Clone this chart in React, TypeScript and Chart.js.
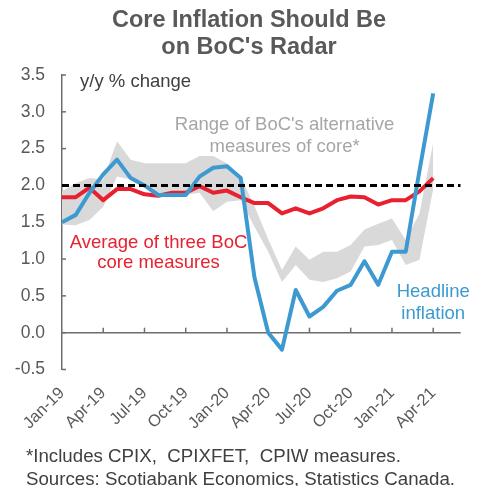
import React, { useEffect, useRef } from 'react';
import { Chart, registerables } from 'chart.js';

Chart.register(...registerables);

// ---------- data ----------
const TICK_LABELS = ['Jan-19', 'Apr-19', 'Jul-19', 'Oct-19', 'Jan-20', 'Apr-20', 'Jul-20', 'Oct-20', 'Jan-21', 'Apr-21'];
const X_LAST_INDEX = 29; // axis runs Jan-19 .. Jun-21
const X_TICK_STEP = 3;

const HEADLINE = [1.5, 1.6, 1.9, 2.15, 2.35, 2.1, 2.0, 1.87, 1.87, 1.87, 2.12, 2.24, 2.26, 2.1, 0.75, 0.0, -0.23, 0.58, 0.22, 0.35, 0.57, 0.65, 0.97, 0.65, 1.1, 1.1, 2.2, 3.25];
const CORE_AVG = [1.84, 1.84, 1.97, 1.8, 1.95, 1.95, 1.88, 1.86, 1.9, 1.9, 1.99, 1.9, 1.93, 1.84, 1.76, 1.76, 1.62, 1.69, 1.62, 1.69, 1.8, 1.85, 1.84, 1.74, 1.8, 1.8, 1.92, 2.1];
const RANGE_HIGH = [1.92, 2.03, 2.1, 2.08, 2.6, 2.35, 2.3, 2.3, 2.3, 2.3, 2.4, 2.4, 2.3, 2.12, 1.72, 1.27, 0.85, 1.17, 0.99, 1.1, 1.1, 1.19, 1.4, 1.48, 1.55, 1.26, 1.62, 2.58];
const RANGE_LOW = [1.47, 1.46, 1.53, 1.71, 2.12, 2.08, 1.99, 1.9, 1.88, 1.87, 1.9, 1.65, 1.78, 1.8, 1.44, 1.1, 0.69, 0.92, 0.72, 0.69, 0.74, 0.83, 1.17, 1.19, 1.26, 0.92, 0.99, 1.95];
const TARGET = 2.0;

const Y_MIN = -0.5;
const Y_MAX = 3.5;
const Y_STEP = 0.5;

const TITLE_LINES = ['Core Inflation Should Be', "on BoC's Radar"];
const FOOTNOTE_LINES = ['*Includes CPIX,  CPIXFET,  CPIW measures.', 'Sources: Scotiabank Economics, Statistics Canada.'];

// ---------- styles ----------
const FONT = '"Liberation Sans", Arial, sans-serif';
const BLUE = '#3D9AD1';
const RED = '#E8202F';
const BAND = '#D9D9D9';
const AXIS = '#6E6E6E';
const TEXT = '#595959';
const DARK = '#404040';

const toPoints = (arr: number[]) => arr.map((y, i) => ({ x: i, y }));

const decorPlugin = {
  id: 'decor',
  beforeDatasetsDraw(chart: any) {
    const { ctx, chartArea, scales } = chart;
    const xs = scales.x;
    const ys = scales.y;
    ctx.save();
    ctx.strokeStyle = AXIS;
    ctx.lineWidth = 1.5;
    // zero line
    const y0 = ys.getPixelForValue(0);
    ctx.beginPath();
    ctx.moveTo(chartArea.left, y0);
    ctx.lineTo(chartArea.right, y0);
    ctx.stroke();
    // upward tick marks on zero line
    for (let v = X_TICK_STEP; v <= X_LAST_INDEX; v += X_TICK_STEP) {
      const px = xs.getPixelForValue(v);
      ctx.beginPath();
      ctx.moveTo(px, y0);
      ctx.lineTo(px, y0 - 5);
      ctx.stroke();
    }
    // inward tick marks on y axis
    for (let v = Y_MIN; v <= Y_MAX + 1e-9; v += Y_STEP) {
      const py = ys.getPixelForValue(v);
      ctx.beginPath();
      ctx.moveTo(chartArea.left, py);
      ctx.lineTo(chartArea.left + 4, py);
      ctx.stroke();
    }
    ctx.restore();
  },
  afterDraw(chart: any) {
    const { ctx, scales } = chart;
    const xs = scales.x;
    const ys = scales.y;
    ctx.save();
    // title
    ctx.font = `bold 23.5px ${FONT}`;
    ctx.fillStyle = TEXT;
    ctx.textAlign = 'center';
    ctx.textBaseline = 'alphabetic';
    ctx.fillText(TITLE_LINES[0], 249, 26.5);
    ctx.fillText(TITLE_LINES[1], 249, 53.5);

    // annotations
    const label = (lines: string[], xv: number, yv: number, color: string, align: CanvasTextAlign, lh: number) => {
      ctx.font = `18.5px ${FONT}`;
      ctx.fillStyle = color;
      ctx.textAlign = align;
      ctx.textBaseline = 'middle';
      const px = xs.getPixelForValue(xv);
      const py = ys.getPixelForValue(yv);
      lines.forEach((t, k) => ctx.fillText(t, px, py + k * lh));
    };
    label(['y/y % change'], 1.31, 3.41, DARK, 'left', 22);
    label(["Range of BoC's alternative", 'measures of core*'], 16.19, 2.826, '#A6A6A6', 'center', 22.3);
    label(['Average of three BoC', 'core measures'], 7.02, 1.224, RED, 'center', 20.8);
    label(['Headline', 'inflation'], 27.0, 0.558, BLUE, 'center', 22.3);

    // footnote
    ctx.font = `18.7px ${FONT}`;
    ctx.fillStyle = DARK;
    ctx.textAlign = 'left';
    ctx.textBaseline = 'alphabetic';
    ctx.fillText(FOOTNOTE_LINES[0], 26, 461.5);
    ctx.fillText(FOOTNOTE_LINES[1], 26, 484.5);
    ctx.restore();
  },
};

export default function App() {
  const ref = useRef<HTMLCanvasElement | null>(null);

  useEffect(() => {
    if (!ref.current) return;
    Chart.defaults.font.family = FONT;
    const chart = new Chart(ref.current, {
      type: 'line',
      data: {
        datasets: [
          {
            label: 'Range low',
            data: toPoints(RANGE_LOW),
            borderWidth: 0,
            pointRadius: 0,
            fill: false,
            order: 3,
          },
          {
            label: 'Range high',
            data: toPoints(RANGE_HIGH),
            borderWidth: 0,
            pointRadius: 0,
            backgroundColor: BAND,
            fill: '-1',
            order: 4,
          },
          {
            label: 'Average of three BoC core measures',
            data: toPoints(CORE_AVG),
            borderColor: RED,
            borderWidth: 4,
            pointRadius: 0,
            fill: false,
            borderJoinStyle: 'round',
            order: 2,
          },
          {
            label: 'Headline inflation',
            data: toPoints(HEADLINE),
            borderColor: BLUE,
            borderWidth: 4,
            pointRadius: 0,
            fill: false,
            borderJoinStyle: 'round',
            order: 1,
          },
          {
            label: 'Target',
            data: [
              { x: 0, y: TARGET },
              { x: X_LAST_INDEX, y: TARGET },
            ],
            borderColor: '#000000',
            borderWidth: 3,
            borderDash: [7, 4],
            pointRadius: 0,
            fill: false,
            order: 0,
          },
        ],
      } as any,
      options: {
        animation: false,
        responsive: false,
        layout: { padding: { top: 75, right: 21.3, left: 0, bottom: 0 } },
        plugins: {
          legend: { display: false },
          title: { display: false },
          tooltip: { enabled: false },
        },
        elements: { line: { tension: 0 } },
        scales: {
          x: {
            type: 'linear',
            min: 0,
            max: X_LAST_INDEX,
            afterFit: (s: any) => {
              s.height = 116.5;
            },
            grid: { display: false, drawTicks: false },
            border: { display: false },
            ticks: {
              stepSize: X_TICK_STEP,
              autoSkip: false,
              includeBounds: false,
              minRotation: 45,
              maxRotation: 45,
              padding: 14,
              color: TEXT,
              font: { size: 16.5 },
              callback: (v: any) => {
                const k = Math.round(Number(v) / X_TICK_STEP);
                return Number(v) % X_TICK_STEP === 0 && TICK_LABELS[k] ? TICK_LABELS[k] : '';
              },
            },
          },
          y: {
            min: Y_MIN,
            max: Y_MAX,
            afterFit: (s: any) => {
              s.width = 62;
            },
            grid: { display: false, drawTicks: false },
            border: { display: true, color: AXIS, width: 1.5 },
            ticks: {
              stepSize: Y_STEP,
              padding: 17,
              color: TEXT,
              font: { size: 17.5 },
              callback: (v: any) => Number(v).toFixed(1),
            },
          },
        },
      } as any,
      plugins: [decorPlugin],
    });
    return () => chart.destroy();
  }, []);

  return (
    <div style={{ position: 'absolute', left: 0, top: 0, width: 482, height: 486, background: '#ffffff' }}>
      <canvas ref={ref} width={482} height={486} style={{ display: 'block' }} />
    </div>
  );
}
